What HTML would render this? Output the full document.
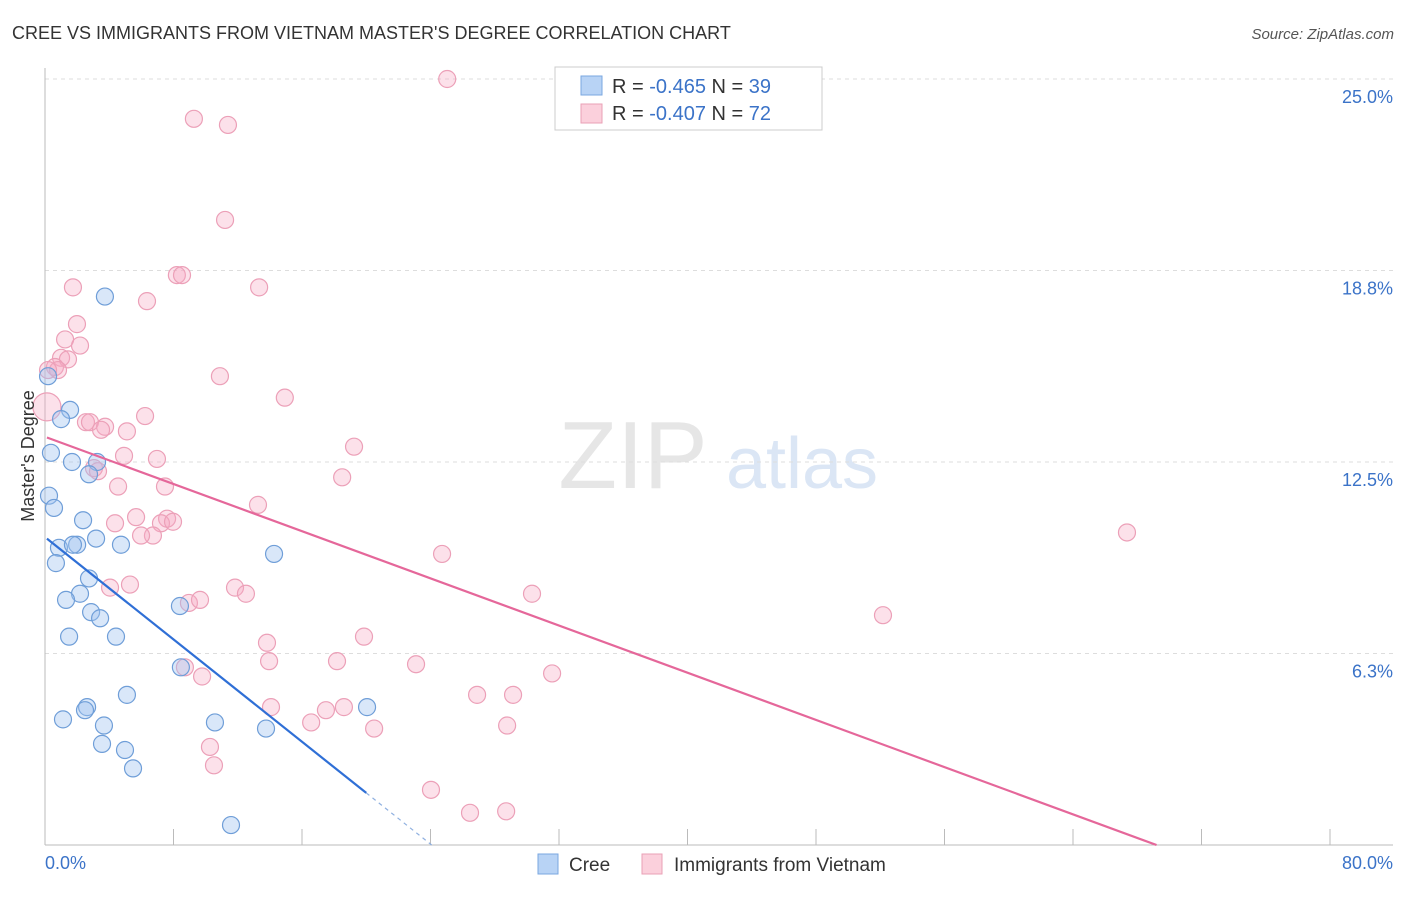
<!DOCTYPE html>
<html><head><meta charset="utf-8"><style>
body{margin:0;background:#fff;font-family:"Liberation Sans",sans-serif}
svg text{font-family:"Liberation Sans",sans-serif}
</style></head><body>
<svg id="c" width="1406" height="892">
<text x="12" y="39" font-size="18" fill="#333">CREE VS IMMIGRANTS FROM VIETNAM MASTER'S DEGREE CORRELATION CHART</text>
<text x="1394" y="39" font-size="15" fill="#555" text-anchor="end" font-style="italic">Source: ZipAtlas.com</text>
<text x="633" y="488" font-size="96" fill="#e6e6e6" font-family="Liberation Serif" text-anchor="middle">ZIP</text>
<text x="802" y="488" font-size="72" fill="#dbe6f5" text-anchor="middle">atlas</text>
<g id="grid"></g><g id="axes"></g><g id="pts"></g><g id="lines"></g>
<text transform="translate(34,456) rotate(-90)" font-size="18" fill="#333" text-anchor="middle">Master's Degree</text>
<text x="45" y="869" font-size="18" fill="#3b73c8">0.0%</text>
<text x="1393" y="869" font-size="18" fill="#3b73c8" text-anchor="end">80.0%</text>
<g>
<rect x="555" y="67" width="267" height="63" fill="#fff" stroke="#ccc"/>
<rect x="581" y="76" width="21" height="19" fill="#b8d3f5" stroke="#7aa7e0"/>
<rect x="581" y="104" width="21" height="19" fill="#fbd0dc" stroke="#eaa0b6"/>
<text x="612" y="93" font-size="20" fill="#333">R = <tspan fill="#3b73c8">-0.465</tspan>   N = <tspan fill="#3b73c8">39</tspan></text>
<text x="612" y="120" font-size="20" fill="#333">R = <tspan fill="#3b73c8">-0.407</tspan>   N = <tspan fill="#3b73c8">72</tspan></text>
</g>
<g>
<rect x="538" y="854" width="20" height="20" fill="#b8d3f5" stroke="#7aa7e0"/>
<text x="569" y="871" font-size="19" fill="#333">Cree</text>
<rect x="642" y="854" width="20" height="20" fill="#fbd0dc" stroke="#eaa0b6"/>
<text x="674" y="871" font-size="19" fill="#333">Immigrants from Vietnam</text>
</g>
</svg>
<script>
const yTicks=[25.0,18.8,12.5,6.3];
const yTickVals=[25,18.75,12.5,6.25];
const xTickCount=10;
const creeX=[3.73,0.19,1.56,1.0,0.37,1.68,3.24,2.74,0.25,0.56,2.37,3.18,0.87,2.0,1.74,4.73,14.26,0.68,2.74,2.18,1.31,8.4,2.87,3.43,1.5,4.42,8.46,5.1,2.62,2.49,20.05,1.12,10.58,3.67,13.76,3.55,4.98,5.48,11.58];
const creeY=[17.9,15.3,14.2,13.9,12.8,12.5,12.5,12.1,11.4,11.0,10.6,10.0,9.7,9.8,9.8,9.8,9.5,9.2,8.7,8.2,8.0,7.8,7.6,7.4,6.8,6.8,5.8,4.9,4.5,4.4,4.5,4.1,4.0,3.9,3.8,3.3,3.1,2.5,0.65];
const vietX=[25.04,9.27,11.39,11.21,8.21,8.53,1.74,13.33,6.35,1.99,1.25,2.18,1.0,1.43,0.62,0.81,0.19,0.12,10.89,14.93,6.23,2.55,2.8,3.74,3.49,5.1,19.24,4.92,6.97,3.05,3.3,18.5,7.47,4.55,13.26,5.67,4.36,7.6,7.22,7.97,6.72,5.98,24.72,4.05,5.29,11.83,12.51,8.96,9.65,30.32,52.17,67.36,19.86,13.82,13.95,18.18,23.1,8.71,31.57,9.78,26.9,29.14,17.49,18.61,14.07,16.57,20.49,28.77,10.27,10.52,24.03,26.46,28.71];
const vietY=[25.0,23.7,23.5,20.4,18.6,18.6,18.2,18.2,17.75,17.0,16.5,16.3,15.9,15.85,15.6,15.5,15.5,14.3,15.3,14.6,14.0,13.8,13.8,13.65,13.55,13.5,13.0,12.7,12.6,12.3,12.2,12.0,11.7,11.7,11.1,10.7,10.5,10.65,10.5,10.55,10.1,10.1,9.5,8.4,8.5,8.4,8.2,7.9,8.0,8.2,7.5,10.2,6.8,6.6,6.0,6.0,5.9,5.8,5.6,5.5,4.9,4.9,4.4,4.5,4.5,4.0,3.8,3.9,3.2,2.6,1.8,1.05,1.1];
const creeLine=[0.12,10.0,20.0,1.7];
const vietLine=[0.12,13.3,69.2,0];
const X0=45,X1=1330,Y0=845,YT=79;
const xs=v=>X0+v/80*(X1-X0);
const ys=v=>Y0-v/25*(Y0-YT);
const NS="http://www.w3.org/2000/svg";
function mk(tag,attrs,parent){const e=document.createElementNS(NS,tag);for(const k in attrs)e.setAttribute(k,attrs[k]);document.getElementById(parent).appendChild(e);return e;}
yTickVals.forEach((v,i)=>{
 const l=mk('line',{x1:X0,x2:1393,y1:ys(v),y2:ys(v),stroke:'#ddd','stroke-dasharray':'4,4'},'grid');
 
 
 const t=mk('text',{x:1393,y:ys(v)+24,'font-size':18,fill:'#3b73c8','text-anchor':'end'},'grid');
 t.textContent=yTicks[i].toFixed(1)+'%';
 
 
});
const ax=mk('line',{x1:X0,x2:1393,y1:Y0,y2:Y0,stroke:'#bbb'},'axes');


const ay=mk('line',{x1:X0,x2:X0,y1:68,y2:Y0,stroke:'#bbb'},'axes');


for(let i=0;i<=xTickCount;i++){const x=xs(i*80/xTickCount);
 const t=mk('line',{x1:x,x2:x,y1:Y0,y2:Y0-16,stroke:'#bbb'},'axes');
 
 }
vietX.forEach((v,i)=>{
 const c=mk('circle',{cx:xs(v),cy:ys(vietY[i]),r:i==17?14:8.5,fill:'rgba(246,170,195,0.35)',stroke:'#eca0b8','stroke-width':1.2},'pts');
 
 
});
creeX.forEach((v,i)=>{
 const c=mk('circle',{cx:xs(v),cy:ys(creeY[i]),r:8.5,fill:'rgba(160,195,240,0.4)',stroke:'#6f9ed8','stroke-width':1.2},'pts');
 
 
});
const vl=mk('line',{x1:xs(vietLine[0]),y1:ys(vietLine[1]),x2:xs(vietLine[2]),y2:ys(vietLine[3]),stroke:'#e5679a','stroke-width':2.2},'lines');


const cl=mk('line',{x1:xs(creeLine[0]),y1:ys(creeLine[1]),x2:xs(creeLine[2]),y2:ys(creeLine[3]),stroke:'#2f6fd6','stroke-width':2.2},'lines');


const slope=(creeLine[3]-creeLine[1])/(creeLine[2]-creeLine[0]);
const xEnd=creeLine[0]-creeLine[1]/slope;
const cd=mk('line',{x1:xs(creeLine[2]),y1:ys(creeLine[3]),x2:xs(xEnd),y2:ys(0),stroke:'#8fb0e0','stroke-width':1.2,'stroke-dasharray':'4,4'},'lines');


</script>
</body></html>
